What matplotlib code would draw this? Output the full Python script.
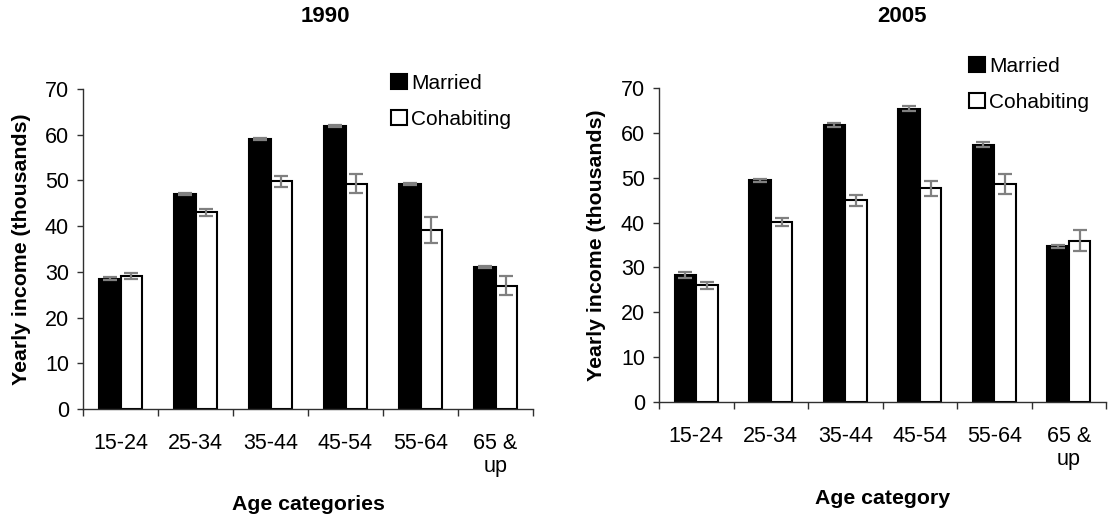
import matplotlib
matplotlib.use("Agg")
import matplotlib.pyplot as plt
import numpy as np
from matplotlib.patches import Patch

plt.rcParams['font.family'] = ['Liberation Sans', 'DejaVu Sans']

age_labels = ["15-24", "25-34", "35-44", "45-54", "55-64", "65 &\nup"]
series_names = ["Married", "Cohabiting"]

married_1990 = [28.5, 47.0, 59.1, 61.9, 49.2, 31.0]
married_1990_err = [0.3, 0.2, 0.2, 0.2, 0.2, 0.2]
cohab_1990 = [29.1, 43.0, 49.8, 49.3, 39.1, 27.0]
cohab_1990_err = [0.6, 0.7, 1.2, 2.0, 2.8, 2.0]

married_2005 = [28.3, 49.4, 61.7, 65.4, 57.4, 34.7]
married_2005_err = [0.7, 0.4, 0.5, 0.5, 0.5, 0.3]
cohab_2005 = [26.0, 40.1, 45.0, 47.6, 48.6, 36.0]
cohab_2005_err = [0.8, 0.9, 1.2, 1.6, 2.3, 2.4]

W, H = 1108, 521
fig = plt.figure(figsize=(W / 100, H / 100), dpi=100)


def px_rect(x0, x1, y_top, y_bot):
    return [x0 / W, 1 - y_bot / H, (x1 - x0) / W, (y_bot - y_top) / H]


ax1 = fig.add_axes(px_rect(83, 533, 89, 409))
ax2 = fig.add_axes(px_rect(659, 1106, 88, 402))

FS = 15.5
LABEL_FS = 15.3
BAR_W = 0.29
ERR_COLOR = "#808080"


def draw_panel(ax, married, married_err, cohab, cohab_err, xlabel):
    centers = np.arange(len(age_labels)) + 0.5
    ax.bar(centers - BAR_W / 2, married, BAR_W, color="black",
           edgecolor="black", linewidth=1.5, zorder=2)
    ax.bar(centers + BAR_W / 2, cohab, BAR_W, color="white",
           edgecolor="black", linewidth=1.5, zorder=2)
    for xs, vals, errs in ((centers - BAR_W / 2, married, married_err),
                           (centers + BAR_W / 2, cohab, cohab_err)):
        ax.errorbar(xs, vals, yerr=errs, fmt="none", ecolor=ERR_COLOR,
                    elinewidth=1.6, capsize=4.7, capthick=1.6, zorder=3)

    ax.set_xlim(0, len(age_labels))
    ax.set_ylim(0, 70)
    ax.set_yticks(np.arange(0, 71, 10))
    ax.set_xticks(centers)
    ax.set_xticklabels(age_labels, fontsize=FS, linespacing=1.15)
    ax.set_xticks(np.arange(0, len(age_labels) + 1), minor=True)
    ax.tick_params(axis="x", which="major", length=0, pad=17)
    ax.tick_params(axis="x", which="minor", length=5, width=1,
                   direction="out", color="#303030")
    ax.tick_params(axis="y", length=4, width=1, direction="out",
                   color="#303030", labelsize=FS, pad=6)
    for side in ("top", "right"):
        ax.spines[side].set_visible(False)
    for side in ("left", "bottom"):
        ax.spines[side].set_color("#303030")
        ax.spines[side].set_linewidth(1)

    ax.set_ylabel("Yearly income (thousands)", fontsize=LABEL_FS,
                  fontweight="bold", va="center")
    ax.set_xlabel(xlabel, fontsize=LABEL_FS, fontweight="bold")


draw_panel(ax1, married_1990, married_1990_err, cohab_1990, cohab_1990_err,
           "Age categories")
draw_panel(ax2, married_2005, married_2005_err, cohab_2005, cohab_2005_err,
           "Age category")

# axis-label placement (pixel positions converted to axes fractions)
ax1.yaxis.set_label_coords((22 - 83) / 450, 0.5)
ax2.yaxis.set_label_coords((596 - 659) / 447, 0.5)
ax1.xaxis.set_label_coords(0.5, -(504 - 409) / 320)
ax2.xaxis.set_label_coords(0.5, -(498 - 402) / 314)
ax1.xaxis.label.set_va("center")
ax2.xaxis.label.set_va("center")

fig.text(325 / W, 1 - 17 / H, "1990", ha="center", va="center",
         fontsize=16, fontweight="bold")
fig.text(902 / W, 1 - 17 / H, "2005", ha="center", va="center",
         fontsize=16, fontweight="bold")

handles = [Patch(facecolor="black", edgecolor="black", linewidth=1.5),
           Patch(facecolor="white", edgecolor="black", linewidth=1.5)]
for anchor in ((391 / W, 1 - 74 / H), (969 / W, 1 - 57 / H)):
    fig.legend(handles, series_names, loc="upper left",
               bbox_to_anchor=anchor, frameon=False, fontsize=15,
               handlelength=0.75, handleheight=0.75, handletextpad=0.2,
               labelspacing=0.8, borderpad=0, borderaxespad=0)

fig.savefig("out.png", dpi=100, facecolor="white")
